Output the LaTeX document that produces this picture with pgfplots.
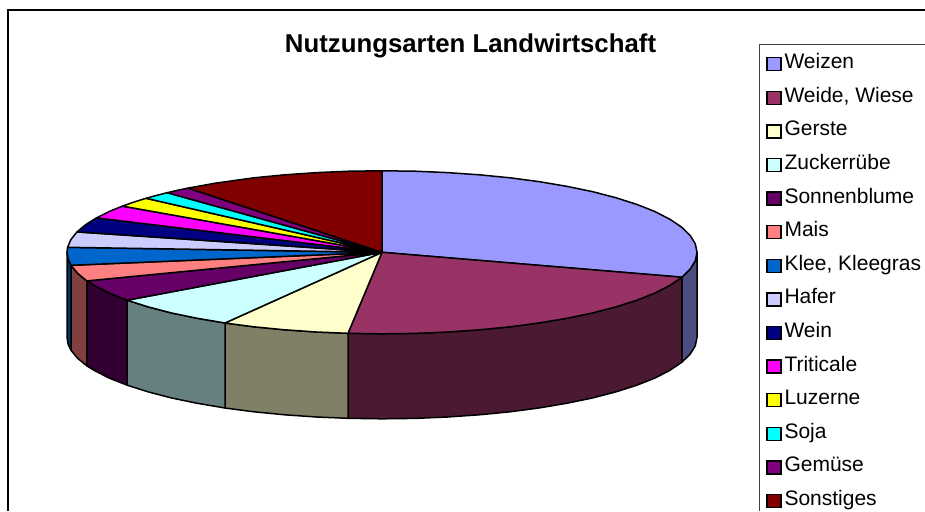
\documentclass[border=0pt]{standalone}
\usepackage{pgfplots}
\pgfplotsset{compat=1.18}
\usepackage{fontspec}
\setmainfont{Liberation Sans}
\definecolor{cWeizen}{HTML}{9999FF}
\definecolor{cWeide}{HTML}{993366}
\definecolor{cGerste}{HTML}{FFFFCC}
\definecolor{cZucker}{HTML}{CCFFFF}
\definecolor{cSonnen}{HTML}{660066}
\definecolor{cMais}{HTML}{FF8080}
\definecolor{cKlee}{HTML}{0066CC}
\definecolor{cHafer}{HTML}{CCCCFF}
\definecolor{cWein}{HTML}{000080}
\definecolor{cTrit}{HTML}{FF00FF}
\definecolor{cLuz}{HTML}{FFFF00}
\definecolor{cSoja}{HTML}{00FFFF}
\definecolor{cGem}{HTML}{800080}
\definecolor{cSonst}{HTML}{800000}
\pgfplotsset{
  wedge/.style={fill=#1,draw=black,line width=1.5pt,line join=round,mark=none,forget plot},
  key/.style={fill=#1,draw=black,line width=1.3pt},
}
\begin{document}
\begin{tikzpicture}[x=1pt,y=1pt]
\path[use as bounding box] (0,0) rectangle (925,511);
\clip (0,0) rectangle (925,511);
\begin{axis}[
  at={(0,0)},anchor=south west,
  width=925pt,height=511pt,scale only axis,
  hide axis,clip=false,
  xmin=0,xmax=925,ymin=0,ymax=511,y dir=reverse,
  title={\fontsize{25.8}{30}\selectfont\bfseries Nutzungsarten Landwirtschaft},
  title style={at={(axis cs:470.5,43)},anchor=center,inner sep=0pt,yshift=-9pt},
  legend cell align=left,
  legend image code/.code={\draw[#1] (0pt,-7pt) rectangle (14pt,6pt);},
  legend style={at={(axis cs:763,51.5)},anchor=north west,draw=none,fill=none,
    font=\fontsize{21}{24}\selectfont,row sep=13.6pt,
    nodes={text height=15pt,text depth=5pt,inner ysep=0pt,inner xsep=3pt}},
]
% frame
\addplot[black,line width=2.2pt,mark=none,forget plot] coordinates {(8,511) (8,10) (925,10)};
\addplot[black!75,line width=1.2pt,mark=none,forget plot] coordinates {(759.3,511) (759.3,44.7) (925,44.7)};
% side faces
\addplot[wedge=cWeizen!50!black] coordinates {(697,252.3) (695.3,260.8) (690.1,269.2) (681.9,277.2) (681.9,362.2) (690.1,354.2) (695.3,345.8) (697,337.3)} --cycle;
\addplot[wedge=cWeide!50!black] coordinates {(681.9,277.2) (669.8,285.4) (654.8,293.1) (636.8,300.2) (616.1,306.8) (592.8,312.9) (567.2,318.2) (539.5,322.9) (510.1,326.8) (479.3,329.8) (447.5,332.0) (414.9,333.4) (382,333.8) (348,333.3) (348,418.3) (382,418.8) (414.9,418.4) (447.5,417) (479.3,414.8) (510.1,411.8) (539.5,407.9) (567.2,403.2) (592.8,397.9) (616.1,391.8) (636.8,385.2) (654.8,378.1) (669.8,370.4) (681.9,362.2)} --cycle;
\addplot[wedge=cGerste!50!black] coordinates {(348,333.3) (316.5,332.0) (284.7,329.8) (253.9,326.8) (225,323) (225,408) (253.9,411.8) (284.7,414.8) (316.5,417) (348,418.3)} --cycle;
\addplot[wedge=cZucker!50!black] coordinates {(225,323) (196.8,318.2) (171.2,312.9) (147.9,306.8) (127.2,300.2) (127.2,385.2) (147.9,391.8) (171.2,397.9) (196.8,403.2) (225,408)} --cycle;
\addplot[wedge=cSonnen!50!black] coordinates {(127.2,300.2) (109.2,293.1) (94.2,285.4) (86.9,280.9) (86.9,365.9) (94.2,370.4) (109.2,378.1) (127.2,385.2)} --cycle;
\addplot[wedge=cMais!50!black] coordinates {(86.9,280.9) (77.7,273.4) (71,265.3) (71,350.3) (77.7,358.4) (86.9,365.9)} --cycle;
\addplot[wedge=cKlee!50!black] coordinates {(71,265.3) (68.2,259.4) (67,252.3) (67,337.3) (68.2,344.4) (71,350.3)} --cycle;
% top faces
\addplot[wedge=cWeizen] coordinates {(382,252.3) (382,170.8) (414.9,171.2) (447.5,172.6) (479.3,174.8) (510.1,177.8) (539.5,181.7) (567.2,186.4) (592.8,191.7) (616.1,197.8) (636.8,204.4) (654.8,211.5) (669.8,219.2) (681.6,227.1) (690.1,235.4) (695.3,243.8) (697,252.3) (695.3,260.8) (690.1,269.2) (681.9,277.2)} --cycle;
\addplot[wedge=cWeide] coordinates {(382,252.3) (681.9,277.2) (669.8,285.4) (654.8,293.1) (636.8,300.2) (616.1,306.8) (592.8,312.9) (567.2,318.2) (539.5,322.9) (510.1,326.8) (479.3,329.8) (447.5,332.0) (414.9,333.4) (382,333.8) (348,333.3)} --cycle;
\addplot[wedge=cGerste] coordinates {(382,252.3) (348,333.3) (316.5,332.0) (284.7,329.8) (253.9,326.8) (225,323)} --cycle;
\addplot[wedge=cZucker] coordinates {(382,252.3) (225,323) (196.8,318.2) (171.2,312.9) (147.9,306.8) (127.2,300.2)} --cycle;
\addplot[wedge=cSonnen] coordinates {(382,252.3) (127.2,300.2) (109.2,293.1) (94.2,285.4) (86.9,280.9)} --cycle;
\addplot[wedge=cMais] coordinates {(382,252.3) (86.9,280.9) (77.7,273.4) (71,265.3)} --cycle;
\addplot[wedge=cKlee] coordinates {(382,252.3) (71,265.3) (68.2,259.4) (67,252.3) (67.6,247.3)} --cycle;
\addplot[wedge=cHafer] coordinates {(382,252.3) (67.6,247.3) (70.9,239.6) (77,231.9)} --cycle;
\addplot[wedge=cWein] coordinates {(382,252.3) (77,231.9) (86,224.4) (96.5,217.9)} --cycle;
\addplot[wedge=cTrit] coordinates {(382,252.3) (96.5,217.9) (109.2,211.5) (122.4,206.1)} --cycle;
\addplot[wedge=cLuz] coordinates {(382,252.3) (122.4,206.1) (133.8,202.1) (146.1,198.3)} --cycle;
\addplot[wedge=cSoja] coordinates {(382,252.3) (146.1,198.3) (155.4,195.7) (167.2,192.7)} --cycle;
\addplot[wedge=cGem] coordinates {(382,252.3) (167.2,192.7) (177.4,190.3) (188.1,188.1)} --cycle;
\addplot[wedge=cSonst] coordinates {(382,252.3) (188.1,188.1) (215.1,183.2) (253.9,177.8) (284.7,174.8) (316.5,172.6) (349.1,171.2) (382,170.8)} --cycle;
% legend
\addlegendimage{key=cWeizen}\addlegendentry{Weizen}
\addlegendimage{key=cWeide}\addlegendentry{Weide, Wiese}
\addlegendimage{key=cGerste}\addlegendentry{Gerste}
\addlegendimage{key=cZucker}\addlegendentry{Zuckerrübe}
\addlegendimage{key=cSonnen}\addlegendentry{Sonnenblume}
\addlegendimage{key=cMais}\addlegendentry{Mais}
\addlegendimage{key=cKlee}\addlegendentry{Klee, Kleegras}
\addlegendimage{key=cHafer}\addlegendentry{Hafer}
\addlegendimage{key=cWein}\addlegendentry{Wein}
\addlegendimage{key=cTrit}\addlegendentry{Triticale}
\addlegendimage{key=cLuz}\addlegendentry{Luzerne}
\addlegendimage{key=cSoja}\addlegendentry{Soja}
\addlegendimage{key=cGem}\addlegendentry{Gemüse}
\addlegendimage{key=cSonst}\addlegendentry{Sonstiges}
\end{axis}
\end{tikzpicture}
\end{document}
